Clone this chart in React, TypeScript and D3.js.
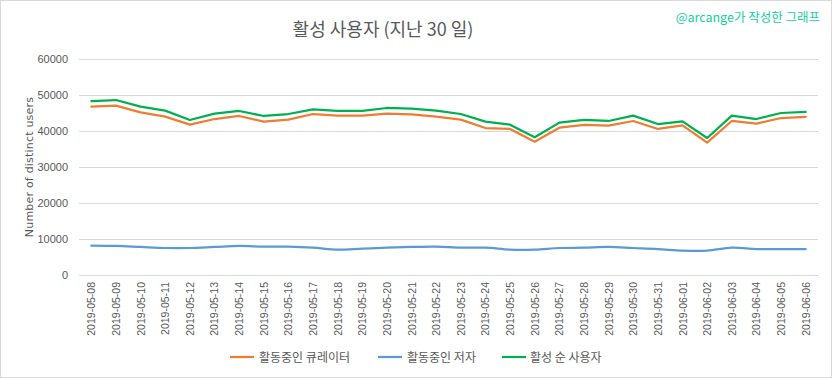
import React from "react";
import * as d3 from "d3";

const dates = [
  "2019-05-08","2019-05-09","2019-05-10","2019-05-11","2019-05-12","2019-05-13","2019-05-14","2019-05-15","2019-05-16","2019-05-17",
  "2019-05-18","2019-05-19","2019-05-20","2019-05-21","2019-05-22","2019-05-23","2019-05-24","2019-05-25","2019-05-26","2019-05-27",
  "2019-05-28","2019-05-29","2019-05-30","2019-05-31","2019-06-01","2019-06-02","2019-06-03","2019-06-04","2019-06-05","2019-06-06",
];

const curators = [
  46760, 47040, 45190, 43980, 41760, 43330, 44170, 42590, 43150, 44720,
  44260, 44260, 44820, 44630, 43980, 43150, 40830, 40560, 37040, 40930,
  41670, 41480, 42780, 40560, 41570, 36760, 42780, 42040, 43610, 43890,
];

const authors = [
  8150, 8060, 7780, 7500, 7500, 7780, 8060, 7870, 7870, 7590,
  7040, 7320, 7590, 7780, 7870, 7590, 7590, 7040, 7040, 7500,
  7590, 7780, 7500, 7220, 6760, 6760, 7590, 7220, 7220, 7220,
];

const activeUsers = [
  48330, 48610, 46760, 45650, 43060, 44820, 45560, 44170, 44720, 46020,
  45560, 45560, 46390, 46200, 45650, 44720, 42590, 41760, 38240, 42320,
  43060, 42780, 44260, 41940, 42690, 38060, 44260, 43330, 45000, 45280,
];

const yTicks = [0, 10000, 20000, 30000, 40000, 50000, 60000];

const seriesNames = ["활동중인 큐레이터", "활동중인 저자", "활성 순 사용자"];
const seriesColors = ["#ED7D31", "#5B9BD5", "#00B050"];

const W = 833;
const H = 379;
const KFONT = "'Malgun Gothic', 'Noto Sans CJK KR', sans-serif";

export default function App() {
  const left = 79, right = 818, top = 59, bottom = 275;
  const x = d3.scaleBand<string>().domain(dates).range([left, right]);
  const y = d3.scaleLinear().domain([0, 60000]).range([bottom, top]);
  const cx = (d: string) => (x(d) as number) + x.bandwidth() / 2;

  const series = [curators, authors, activeUsers];
  const lineLinear = d3.line<number>().x((_, i) => cx(dates[i])).y((v) => y(v));
  const lineSmooth = d3
    .line<number>()
    .x((_, i) => cx(dates[i]))
    .y((v) => y(v))
    .curve(d3.curveCatmullRom.alpha(0.5));

  const legendItems = [
    { lx: 230, tx: 259 },
    { lx: 378, tx: 407 },
    { lx: 502, tx: 530 },
  ];

  return (
    <div style={{ position: "absolute", left: 0, top: 0 }}>
      <svg width={W} height={H} style={{ display: "block", background: "#fff" }}>
        <rect x={0.5} y={0.5} width={831} height={377} fill="#fff" stroke="#D9D9D9" />
        <text x={383} y={36} textAnchor="middle" fontSize={18} fill="#595959" fontFamily={KFONT}>
          활성 사용자 (지난 30 일)
        </text>
        <text x={820} y={22} textAnchor="end" fontSize={12.5} fill="#14CFA0" fontFamily={KFONT}>
          @arcange가 작성한 그래프
        </text>

        {yTicks.map((t) => (
          <g key={t}>
            <line x1={left} x2={right} y1={Math.round(y(t)) + 0.5} y2={Math.round(y(t)) + 0.5} stroke="#D9D9D9" strokeWidth={1} />
            <text x={68} y={y(t) + 4} textAnchor="end" fontSize={11} fill="#595959" fontFamily="'Liberation Sans', Arial, sans-serif">
              {t}
            </text>
          </g>
        ))}

        <text
          transform={`translate(33, ${(top + bottom) / 2}) rotate(-90)`}
          textAnchor="middle"
          fontSize={11}
          fill="#595959"
          fontFamily="'DejaVu Sans', sans-serif"
          letterSpacing={0.2}
        >
          Number of distinct users
        </text>

        {dates.map((d) => (
          <text
            key={d}
            transform={`translate(${cx(d) + 4}, 282) rotate(-90)`}
            textAnchor="end"
            fontSize={10.5}
            fill="#595959"
            fontFamily="'Liberation Sans', Arial, sans-serif"
          >
            {d}
          </text>
        ))}

        {series.map((s, i) => (
          <path
            key={i}
            d={(i === 1 ? lineSmooth(s) : lineLinear(s)) || ""}
            fill="none"
            stroke={seriesColors[i]}
            strokeWidth={2.25}
            strokeLinejoin="round"
            strokeLinecap="round"
          />
        ))}

        {legendItems.map((it, i) => (
          <g key={i}>
            <line x1={it.lx} x2={it.lx + 24} y1={357} y2={357} stroke={seriesColors[i]} strokeWidth={2.25} />
            <text x={it.tx} y={361.5} fontSize={12} fill="#595959" fontFamily={KFONT}>
              {seriesNames[i]}
            </text>
          </g>
        ))}
      </svg>
    </div>
  );
}
